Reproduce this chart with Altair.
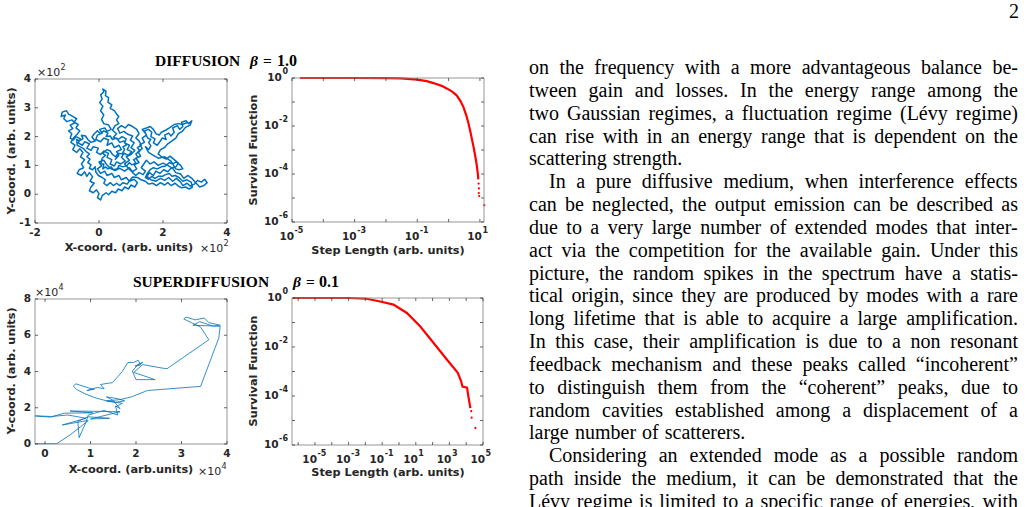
import altair as alt
import pandas as pd

# ---------------- data ----------------
# Diffusion trajectory (units of 10^2)
diff_path = [
(0.50,1.20),(0.62,1.35),(0.55,1.48),(0.70,1.55),(0.62,1.70),(0.48,1.62),(0.40,1.78),(0.25,1.70),(0.30,1.88),(0.15,1.95),(0.05,1.82),(-0.10,1.90),(-0.05,2.05),(0.10,2.12),(0.02,2.25),(0.18,2.30),(0.25,2.18),(0.38,2.25),(0.30,2.40),(0.15,2.45),
(0.08,2.60),(0.15,2.75),(0.05,2.90),(0.12,3.05),(0.02,3.18),(0.10,3.30),(0.05,3.45),(0.15,3.55),(0.12,3.65),(0.22,3.58),(0.20,3.42),(0.30,3.35),(0.28,3.20),(0.40,3.10),(0.35,2.98),(0.48,2.90),(0.55,2.78),(0.62,2.70),(0.55,2.58),(0.62,2.45),(0.50,2.38),(0.42,2.22),
(0.55,2.10),(0.45,1.98),(0.60,1.90),(0.72,2.00),(0.85,1.92),(0.80,1.78),(0.95,1.70),(0.88,1.55),(1.02,1.48),(0.92,1.35),(0.78,1.42),(0.70,1.28),(0.82,1.15),(0.68,1.05),(0.55,1.12),(0.48,0.98),(0.35,1.05),(0.40,1.20),(0.25,1.28),(0.30,1.42),(0.15,1.50),(0.05,1.38),(-0.08,1.45),(-0.02,1.60),(-0.18,1.65),(-0.25,1.52),(-0.38,1.60),(-0.30,1.75),(-0.45,1.82),(-0.52,1.70),(-0.65,1.78),(-0.58,1.92),(-0.72,2.00),(-0.80,1.88),(-0.90,1.95),(-0.85,2.10),(-0.95,2.20),(-0.82,2.28),
(-0.90,2.40),(-0.75,2.48),(-0.85,2.58),(-1.00,2.52),(-1.10,2.62),(-1.05,2.75),(-1.18,2.70),(-1.15,2.85),(-1.02,2.90),(-0.95,2.78),(-0.82,2.70),(-0.70,2.62),(-0.78,2.50),(-0.65,2.42),(-0.72,2.30),(-0.60,2.20),(-0.68,2.08),
(-0.80,1.95),(-0.88,1.80),(-0.75,1.70),(-0.82,1.55),(-0.70,1.45),(-0.60,1.58),(-0.50,1.45),(-0.58,1.30),(-0.45,1.20),(-0.55,1.05),(-0.48,0.92),(-0.62,0.85),(-0.68,0.72),(-0.55,0.65),(-0.45,0.78),(-0.38,0.62),(-0.30,0.75),(-0.20,0.60),(-0.28,0.45),(-0.15,0.38),(-0.25,0.25),(-0.30,0.12),(-0.18,0.05),(-0.08,0.15),(0.00,0.02),(-0.05,-0.12),(0.05,-0.20),(0.10,-0.05),(0.22,0.05),(0.30,-0.02),(0.40,0.10),(0.52,0.05),(0.60,0.18),(0.72,0.12),(0.80,0.25),(0.92,0.18),(1.00,0.32),(1.12,0.25),(1.20,0.40),(1.10,0.52),(0.95,0.45),(0.85,0.58),(0.70,0.50),(0.62,0.65),(0.48,0.58),(0.40,0.72),(0.25,0.65),(0.18,0.80),(0.05,0.72),(-0.05,0.88),(0.08,0.98),(0.00,1.12),(0.15,1.18),(0.22,1.05),(0.35,0.90),(0.50,0.82),(0.65,0.90),(0.80,0.80),(0.95,0.92),(1.05,0.78),(1.18,0.88),(1.10,1.02),(1.25,1.10),(1.15,1.25),(1.30,1.32),(1.22,1.48),(1.35,1.58),(1.28,1.72),(1.42,1.80),(1.35,1.95),(1.48,2.05),(1.42,2.20),(1.55,2.25),(1.65,2.15),(1.62,2.00),(1.75,1.92),(1.70,1.78),(1.82,1.70),(1.90,1.82),(1.98,1.95),(2.10,1.90),(2.05,2.05),(2.18,2.12),(2.25,2.02),(2.35,2.15),(2.30,2.30),(2.45,2.38),(2.52,2.25),(2.62,2.35),(2.58,2.50),(2.72,2.55),(2.80,2.45),(2.90,2.55),(2.85,2.40),(2.70,2.32),(2.60,2.18),(2.48,2.10),(2.40,1.95),(2.28,1.85),(2.15,1.75),(2.05,1.62),(1.92,1.55),(1.85,1.40),(1.95,1.30),(2.10,1.22),(2.22,1.32),(2.35,1.20),(2.48,1.08),(2.40,0.95),(2.25,0.90),(2.15,0.78),(2.02,0.85),(1.90,0.72),(1.78,0.80),(1.70,0.65),(1.58,0.75),(1.50,0.62),(1.62,0.50),(1.78,0.45),(1.92,0.55),(2.05,0.48),(2.18,0.58),(2.30,0.45),(2.42,0.55),(2.55,0.42),(2.62,0.30),(2.75,0.38),(2.85,0.28),(2.98,0.35),(3.08,0.48),(3.20,0.42),(3.30,0.52),(3.38,0.40),(3.28,0.30),(3.15,0.25),(3.02,0.40),(2.90,0.55),(2.78,0.65),(2.65,0.55),(2.55,0.70),(2.40,0.75),(2.30,0.90),(2.15,1.00),(2.00,1.08),(1.85,1.00),(1.72,1.12),(1.60,1.05),(1.48,1.18),(1.40,1.05),(1.32,0.92),(1.45,0.80),(1.38,0.68),(1.25,0.75),(1.15,0.65),(1.05,0.75),(0.92,0.90),(0.80,1.05),(0.95,1.18),(0.85,1.30),(1.00,1.38),(1.12,1.52),(1.00,1.62),(1.10,1.78),(0.98,1.88),(1.05,2.02),(0.90,2.08),(0.78,2.18),(0.65,2.12),(0.58,2.28),(0.70,2.38),(0.82,2.30),(0.92,2.42),(1.05,2.35),(1.18,2.25),(1.25,2.10),(1.15,1.95),(1.25,1.85),
(1.32,1.70),(1.20,1.62),(1.28,1.50),(1.15,1.40),(1.22,1.28),(1.08,1.20),(1.15,1.08),(1.02,1.02),(0.95,1.10),(0.88,1.00),(0.75,0.95),(0.62,1.00),(0.58,0.88),(0.45,0.85),(0.38,0.95),(0.28,0.88),(0.20,0.95),(0.12,0.88),(0.15,1.05),(0.05,1.05),(0.10,1.25),(0.20,1.35),(0.12,1.42),(0.25,1.55),(0.35,1.50),(0.42,1.38),(0.52,1.30),(0.60,1.42),(0.72,1.40),(0.80,1.55),(0.75,1.65),(0.85,1.70),(0.78,1.85),(0.65,1.80),(0.55,1.95),(0.42,1.90),(0.35,2.02),(0.22,2.00),(0.28,2.12),(0.15,2.20),(0.05,2.10),(-0.05,2.20),(-0.15,2.10),(-0.22,1.98),(-0.12,1.85),(-0.25,1.80),(-0.35,1.90),(-0.42,2.02),(-0.55,2.05),(-0.50,1.92),(-0.62,1.85),(-0.70,1.90),(-0.68,1.70),(-0.60,1.65),(-0.48,1.58),(-0.40,1.48),(-0.30,1.40),(-0.38,1.30),(-0.28,1.22),(-0.35,1.10),(-0.25,1.02),(-0.30,0.90),(-0.20,0.85),(-0.12,0.95),(-0.10,0.78),(-0.02,0.65),(0.10,0.58),(0.20,0.50),(0.15,0.38),(0.25,0.30),(0.35,0.40),(0.45,0.30),(0.55,0.38),(0.65,0.30),(0.75,0.40),(0.88,0.35),(0.98,0.50),(1.05,0.60),(1.20,0.58),(1.32,0.50),(1.45,0.45),(1.55,0.35),(1.68,0.38),(1.80,0.30),(1.92,0.40),(2.05,0.32),(2.15,0.40),(2.25,0.30),(2.38,0.38),(2.48,0.28),(2.58,0.22),
(2.70,0.25),(2.82,0.18),(2.92,0.25),(2.88,0.42),(2.75,0.50),(2.62,0.45),(2.50,0.58),(2.38,0.65),(2.28,0.62),(2.20,0.72),(2.08,0.68),(1.98,0.62),(1.85,0.62),(1.75,0.55),(1.65,0.62),(1.55,0.52),(1.45,0.58),(1.50,0.70),(1.60,0.85),(1.70,0.92),(1.82,0.88),(1.95,0.95),(2.08,0.98),(2.20,1.10),(2.30,1.05),(2.42,1.12),(2.55,1.00),(2.62,0.88),(2.50,0.85),(2.40,0.88),
(2.25,1.15),(2.05,1.30),(1.85,1.25),(1.70,1.35),(1.55,1.45),(1.45,1.65),(1.55,1.55),(1.62,1.68),(1.55,1.80),(1.62,1.90),(1.52,1.95),(1.45,2.12),(1.35,2.25),(1.48,2.30),(1.60,2.35),(1.70,2.25),(1.78,2.10),(1.88,2.05),(1.95,2.15),(2.08,2.22),(2.20,2.30),(2.35,2.42),(2.48,2.45),(2.60,2.42),(2.75,2.48),
]

# Superdiffusion trajectory (units of 10^4)
super_path = [
(-0.22,0.02),(0.26,0.02),(0.55,0.50),(0.78,0.95),(0.95,1.30),
(0.38,1.05),(0.90,1.42),(0.50,1.60),(0.15,1.52),(-0.22,1.55),(0.12,1.48),(0.42,1.70),(1.05,1.72),(0.55,1.82),(1.20,1.80),(1.65,1.78),(1.00,1.38),(1.42,1.42),(0.95,1.50),(0.72,1.25),(0.75,0.35),(0.90,1.20),(0.95,1.60),(1.30,1.85),(1.60,1.60),
(1.55,2.10),(1.65,1.95),(1.50,2.40),(1.35,2.60),(1.60,2.50),(1.75,2.38),(1.55,2.30),(1.40,2.35),
(1.10,2.55),(0.90,2.75),(0.70,3.00),(0.62,3.20),(0.68,3.32),(0.95,3.10),(1.08,3.02),(0.92,2.95),(1.15,3.12),(1.30,3.05),(1.22,3.28),(1.38,3.35),(1.48,3.38),
(1.70,4.00),(1.82,4.50),(1.95,4.50),(2.05,4.62),(2.10,4.35),(1.98,4.30),(2.15,4.50),(2.05,4.40),(1.92,4.02),(2.00,3.55),(2.42,3.55),(1.95,3.95),(2.15,4.38),
(2.55,4.20),(2.68,4.15),(3.60,5.75),(3.42,6.45),
(3.05,6.90),(3.10,7.00),(3.30,6.85),(3.50,6.95),(3.60,6.70),(3.85,6.55),(3.70,6.50),(3.40,6.75),(3.25,6.55),(3.85,6.50),(3.82,5.85),
(3.42,3.18),(2.25,2.95),(1.90,2.60),(1.65,2.45),(1.35,2.38),(1.70,2.25),(1.55,2.05),
]

# Survival function, beta = 1.0
surv1_len = [1.8e-5, 1e-4, 1e-3, 1e-2, 0.03, 0.1, 0.2, 0.35, 0.6, 0.9, 1.3, 1.8, 2.4, 3.0, 3.6, 4.3, 5.0, 5.6, 6.3, 7.1, 7.8, 8.4, 8.9]
surv1_val = [1.0, 1.0, 1.0, 0.99, 0.96, 0.85, 0.74, 0.6, 0.47, 0.36, 0.27, 0.19, 0.11, 0.06, 0.03, 0.013, 0.0055, 0.0027, 0.0013, 0.00055, 0.00027, 0.00013, 0.00006]
surv1_tail_len = [9.1, 9.3, 9.2, 9.5, 13.8]
surv1_tail_val = [4e-5, 2.5e-5, 1.6e-5, 1.2e-5, 5e-6]

# Survival function, beta = 0.1
surv2_len = [5e-7, 1e-5, 1e-3, 0.012, 0.076, 0.47, 2.95, 18.6, 115, 724, 3160, 5000, 6000, 11200, 14100, 17800]
surv2_val = [1.0, 1.0, 1.0, 0.93, 0.72, 0.54, 0.245, 0.069, 0.0145, 0.003, 0.00089, 0.0004, 0.00024, 0.00022, 0.000081, 0.000032]
surv2_tail_len = [20000, 21000, 35500]
surv2_tail_val = [2.4e-5, 1.3e-5, 5e-6]

# Tick values and labels
p1_xt = [-2, 0, 2, 4]
p1_yt = [-1, 0, 1, 2, 3, 4]
p3_xt = [0, 1, 2, 3, 4]
p3_yt = [0, 2, 4, 6, 8]
p2_xt = [1e-5, 1e-4, 1e-3, 1e-2, 1e-1, 1, 10]
p2_xl = [1e-5, 1e-3, 1e-1, 10]
p2_xl_e = ["-5", "-3", "-1", "1"]
log_yt = [1e-6, 1e-5, 1e-4, 1e-3, 1e-2, 1e-1, 1]
log_yl = [1, 1e-2, 1e-4, 1e-6]
log_yl_e = ["0", "-2", "-4", "-6"]
p4_xt = [1e-6, 1e-5, 1e-4, 1e-3, 1e-2, 1e-1, 1, 10, 100, 1e3, 1e4, 1e5]
p4_xl = [1e-5, 1e-3, 1e-1, 10, 1e3, 1e5]
p4_xl_e = ["-5", "-3", "-1", "1", "3", "5"]

# Body text of the page
body_lines = [
    "on the frequency with a more advantageous balance be-",
    "tween gain and losses. In the energy range among the",
    "two Gaussian regimes, a fluctuation regime (Lévy regime)",
    "can rise with in an energy range that is dependent on the",
    "scattering strength.",
    "In a pure diffusive medium, when interference effects",
    "can be neglected, the output emission can be described as",
    "due to a very large number of extended modes that inter-",
    "act via the competition for the available gain. Under this",
    "picture, the random spikes in the spectrum have a statis-",
    "tical origin, since they are produced by modes with a rare",
    "long lifetime that is able to acquire a large amplification.",
    "In this case, their amplification is due to a non resonant",
    "feedback mechanism and these peaks called “incoherent”",
    "to distinguish them from the “coherent” peaks, due to",
    "random cavities established among a displacement of a",
    "large number of scatterers.",
    "Considering an extended mode as a possible random",
    "path inside the medium, it can be demonstrated that the",
    "Lévy regime is limited to a specific range of energies, with",
]
para_end = [4, 16]
para_start = [5, 17]

# ---------------- styles ----------------
BLUE = "#0072BD"
RED = "#FF0000"
AX = "#262626"
FRAME = "#8a8a8a"
SANS = "DejaVu Sans"
SERIF = "Liberation Serif"
TICK_FS = 10.5
EXP_FS = 8
TITLE_FS = 11.3
# DejaVu Sans Bold advance widths (1/1000 em) for exponent strings
DJB = {"-": 415, "0": 696, "1": 696, "2": 696, "3": 696, "4": 696, "5": 696, "6": 696}


def lin(domain, rng):
    return alt.Scale(type="linear", domain=domain, range=rng, nice=False, zero=False)


def logs(domain, rng):
    return alt.Scale(type="log", domain=domain, range=rng, nice=False)


def txt(df, xs, ys, xf, yf, **kw):
    style = dict(font=SANS, fontWeight="bold", fontSize=TICK_FS, color=AX, baseline="middle")
    style.update(kw)
    return alt.Chart(df).mark_text(**style).encode(
        x=alt.X(xf, scale=xs, axis=None), y=alt.Y(yf, scale=ys, axis=None), text="t:N")


def frame_ticks(xd, yd, xs, ys, xt, yt):
    layers = []
    fr = pd.DataFrame({"x0": [xd[0]], "x1": [xd[1]], "y0": [yd[0]], "y1": [yd[1]]})
    layers.append(alt.Chart(fr).mark_rect(fillOpacity=0, stroke=FRAME, strokeWidth=0.9).encode(
        x=alt.X("x0:Q", scale=xs, axis=None), x2="x1:Q",
        y=alt.Y("y0:Q", scale=ys, axis=None), y2="y1:Q"))
    tx = pd.DataFrame({"v": xt, "lo": yd[0], "hi": yd[1]})
    layers.append(alt.Chart(tx).mark_rule(stroke=AX, strokeWidth=0.7, y2Offset=-3).encode(
        x=alt.X("v:Q", scale=xs, axis=None), y=alt.Y("lo:Q", scale=ys, axis=None), y2="lo:Q"))
    layers.append(alt.Chart(tx).mark_rule(stroke=AX, strokeWidth=0.7, y2Offset=3).encode(
        x=alt.X("v:Q", scale=xs, axis=None), y=alt.Y("hi:Q", scale=ys, axis=None), y2="hi:Q"))
    ty = pd.DataFrame({"v": yt, "lo": xd[0], "hi": xd[1]})
    layers.append(alt.Chart(ty).mark_rule(stroke=AX, strokeWidth=0.7, x2Offset=3).encode(
        y=alt.Y("v:Q", scale=ys, axis=None), x=alt.X("lo:Q", scale=xs, axis=None), x2="lo:Q"))
    layers.append(alt.Chart(ty).mark_rule(stroke=AX, strokeWidth=0.7, x2Offset=-3).encode(
        y=alt.Y("v:Q", scale=ys, axis=None), x=alt.X("hi:Q", scale=xs, axis=None), x2="hi:Q"))
    return layers


def plain_labels(xd, yd, xs, ys, xl, yl):
    lx = pd.DataFrame({"v": xl, "t": [str(v) for v in xl], "lo": yd[0]})
    ly = pd.DataFrame({"v": yl, "t": [str(v) for v in yl], "lo": xd[0]})
    return [txt(lx, xs, ys, "v:Q", "lo:Q", align="center", dy=10),
            txt(ly, xs, ys, "lo:Q", "v:Q", align="right", dx=-4)]


def log_labels(xd, yd, xs, ys, xl, xl_e, yl, yl_e):
    layers = []
    lx = pd.DataFrame({"v": xl, "t": "10", "lo": yd[0]})
    layers.append(txt(lx, xs, ys, "v:Q", "lo:Q", align="right", dx=2, dy=15))
    ex = pd.DataFrame({"v": xl, "t": xl_e, "lo": yd[0]})
    layers.append(txt(ex, xs, ys, "v:Q", "lo:Q", align="left", dx=2.5, dy=9, fontSize=EXP_FS))
    ey = pd.DataFrame({"v": yl, "t": yl_e, "lo": xd[0]})
    layers.append(txt(ey, xs, ys, "lo:Q", "v:Q", align="right", dx=-4, dy=-6, fontSize=EXP_FS))
    for v, e in zip(yl, yl_e):
        ew = sum(DJB[c] for c in e) * EXP_FS / 1000
        by = pd.DataFrame({"v": [v], "t": ["10"], "lo": [xd[0]]})
        layers.append(txt(by, xs, ys, "lo:Q", "v:Q", align="right", dx=-4.5 - ew))
    return layers


def label(t, x, y, size, font=SANS, weight="bold", angle=0, align="center", style="normal", color=AX):
    df = pd.DataFrame({"t": [t]})
    return alt.Chart(df).mark_text(font=font, fontWeight=weight, fontSize=size, angle=angle,
                                   align=align, baseline="middle", fontStyle=style, color=color).encode(
        x=alt.value(x), y=alt.value(y), text="t:N")


def multiplier(exp, x, y):
    # "×10" followed by a raised exponent
    return [label("×10", x, y, 11, weight="normal", align="left"),
            label(exp, x + 23.5, y - 5, 8, weight="normal", align="left")]


layers = []

# ---- Panel 1: diffusion trajectory ----
p1_xd, p1_yd = [-2, 4], [-1, 4]
p1_xs, p1_ys = lin(p1_xd, [35, 227]), lin(p1_yd, [223, 79])
d1 = pd.DataFrame({"x": [p[0] for p in diff_path], "y": [p[1] for p in diff_path], "i": range(len(diff_path))})
layers.append(alt.Chart(d1).mark_line(color=BLUE, strokeWidth=1.5, strokeJoin="round", clip=True).encode(
    x=alt.X("x:Q", scale=p1_xs, axis=None), y=alt.Y("y:Q", scale=p1_ys, axis=None), order="i:Q"))
layers += frame_ticks(p1_xd, p1_yd, p1_xs, p1_ys, p1_xt, p1_yt)
layers += plain_labels(p1_xd, p1_yd, p1_xs, p1_ys, p1_xt, p1_yt)

# ---- Panel 2: survival beta = 1.0 ----
p2_xd, p2_yd = [1e-5, 13.5], [1e-6, 1]
p2_xs, p2_ys = logs(p2_xd, [292, 484]), logs(p2_yd, [222, 78])
d2 = pd.DataFrame({"x": surv1_len, "y": surv1_val, "i": range(len(surv1_len))})
layers.append(alt.Chart(d2).mark_line(color=RED, strokeWidth=2.2, clip=True).encode(
    x=alt.X("x:Q", scale=p2_xs, axis=None), y=alt.Y("y:Q", scale=p2_ys, axis=None), order="i:Q"))
d2t = pd.DataFrame({"x": surv1_tail_len, "y": surv1_tail_val})
layers.append(alt.Chart(d2t).mark_circle(color=RED, size=5, opacity=1).encode(
    x=alt.X("x:Q", scale=p2_xs, axis=None), y=alt.Y("y:Q", scale=p2_ys, axis=None)))
layers += frame_ticks(p2_xd, p2_yd, p2_xs, p2_ys, p2_xt, log_yt)
layers += log_labels(p2_xd, p2_yd, p2_xs, p2_ys, p2_xl, p2_xl_e, log_yl, log_yl_e)

# ---- Panel 3: superdiffusion trajectory ----
p3_xd, p3_yd = [-0.22, 4], [0, 8]
p3_xs, p3_ys = lin(p3_xd, [35, 227]), lin(p3_yd, [444, 299])
d3 = pd.DataFrame({"x": [p[0] for p in super_path], "y": [p[1] for p in super_path], "i": range(len(super_path))})
layers.append(alt.Chart(d3).mark_line(color=BLUE, strokeWidth=0.8, clip=True).encode(
    x=alt.X("x:Q", scale=p3_xs, axis=None), y=alt.Y("y:Q", scale=p3_ys, axis=None), order="i:Q"))
layers += frame_ticks(p3_xd, p3_yd, p3_xs, p3_ys, p3_xt, p3_yt)
layers += plain_labels(p3_xd, p3_yd, p3_xs, p3_ys, p3_xt, p3_yt)

# ---- Panel 4: survival beta = 0.1 ----
p4_xd, p4_yd = [4.3e-7, 1e5], [1e-6, 1]
p4_xs, p4_ys = logs(p4_xd, [292, 483]), logs(p4_yd, [445, 298])
d4 = pd.DataFrame({"x": surv2_len, "y": surv2_val, "i": range(len(surv2_len))})
layers.append(alt.Chart(d4).mark_line(color=RED, strokeWidth=2.2, clip=True).encode(
    x=alt.X("x:Q", scale=p4_xs, axis=None), y=alt.Y("y:Q", scale=p4_ys, axis=None), order="i:Q"))
d4t = pd.DataFrame({"x": surv2_tail_len, "y": surv2_tail_val})
layers.append(alt.Chart(d4t).mark_circle(color=RED, size=5, opacity=1).encode(
    x=alt.X("x:Q", scale=p4_xs, axis=None), y=alt.Y("y:Q", scale=p4_ys, axis=None)))
layers += frame_ticks(p4_xd, p4_yd, p4_xs, p4_ys, p4_xt, log_yt)
layers += log_labels(p4_xd, p4_yd, p4_xs, p4_ys, p4_xl, p4_xl_e, log_yl, log_yl_e)

# ---- axis titles, multipliers, panel titles ----
layers += [
    label("Y-coord. (arb. units)", 12, 151, TITLE_FS, angle=270),
    label("X-coord. (arb. units)", 129, 248, TITLE_FS),
    label("Survival Function", 254, 150, TITLE_FS, angle=270),
    label("Step Length (arb. units)", 388, 251, TITLE_FS),
    label("Y-coord. (arb. units)", 12, 371, TITLE_FS, angle=270),
    label("X-coord. (arb.units)", 131, 470, TITLE_FS),
    label("Survival Function", 254, 371, TITLE_FS, angle=270),
    label("Step Length (arb. units)", 388, 473, TITLE_FS),
    label("DIFFUSION", 155, 61, 15.5, font=SERIF, align="left", color="black"),
    label("β", 250, 61, 15.5, font=SERIF, align="left", style="italic", color="black"),
    label("=", 263, 61, 15.5, font=SERIF, align="left", color="black"),
    label("1.0", 277, 61, 16, font=SERIF, align="left", color="black"),
    label("SUPERDIFFUSION", 133, 282, 15.5, font=SERIF, align="left", color="black"),
    label("β", 293, 282, 15.5, font=SERIF, align="left", style="italic", color="black"),
    label("=", 306, 282, 15.5, font=SERIF, align="left", color="black"),
    label("0.1", 319, 282, 16, font=SERIF, align="left", color="black"),
    label("2", 1019, 12, 20, font=SERIF, weight="normal", align="right", color="black"),
]
layers += multiplier("2", 200, 249)
layers += multiplier("2", 37, 73)
layers += multiplier("4", 198, 472)
layers += multiplier("4", 35, 293)

# ---- justified body text (Times-compatible advance widths, 1/1000 em) ----
TW = {" ": 250, "a": 444, "b": 500, "c": 444, "d": 500, "e": 444, "f": 333, "g": 500, "h": 500,
      "i": 278, "j": 278, "k": 500, "l": 278, "m": 778, "n": 500, "o": 500, "p": 500, "q": 500,
      "r": 333, "s": 389, "t": 278, "u": 500, "v": 500, "w": 722, "x": 500, "y": 500, "z": 444,
      "A": 722, "B": 667, "C": 667, "D": 722, "E": 611, "F": 556, "G": 722, "H": 722, "I": 333,
      "J": 389, "K": 722, "L": 611, "M": 889, "N": 722, "O": 722, "P": 556, "Q": 722, "R": 667,
      "S": 556, "T": 611, "U": 722, "V": 722, "W": 944, "X": 722, "Y": 722, "Z": 611,
      ".": 250, ",": 250, "-": 333, "(": 333, ")": 333, "“": 444, "”": 444, "é": 444, ":": 278}
FS = 20
TEXT_L, TEXT_R, INDENT = 529, 1018, 20

rows = []
for i, line in enumerate(body_lines):
    words = line.split()
    ws = [sum(TW.get(c, 500) for c in w) * FS / 1000 for w in words]
    left = TEXT_L + (INDENT if i in para_start else 0)
    if i in para_end or len(words) < 2:
        gap = 0.3 * FS
    else:
        gap = (TEXT_R - left - sum(ws)) / (len(words) - 1)
    x = left
    for w, wd in zip(words, ws):
        rows.append({"w": w, "x": x, "line": i})
        x += wd + gap
body = pd.DataFrame(rows)
layers.append(alt.Chart(body).mark_text(font=SERIF, fontSize=FS, color="black", align="left",
                                        baseline="middle").encode(
    x=alt.X("x:Q", scale=alt.Scale(domain=[0, 1026], range=[0, 1026]), axis=None),
    y=alt.Y("line:Q", scale=alt.Scale(domain=[0, 19], range=[68, 502]), axis=None),
    text="w:N"))

chart = alt.layer(*layers).resolve_scale(x="independent", y="independent").properties(
    width=1026, height=507, padding=0, background="white",
    autosize=alt.AutoSizeParams(type="none")
).configure_view(strokeWidth=0)

chart.save("out.html", embed_options={"renderer": "svg", "actions": False})
